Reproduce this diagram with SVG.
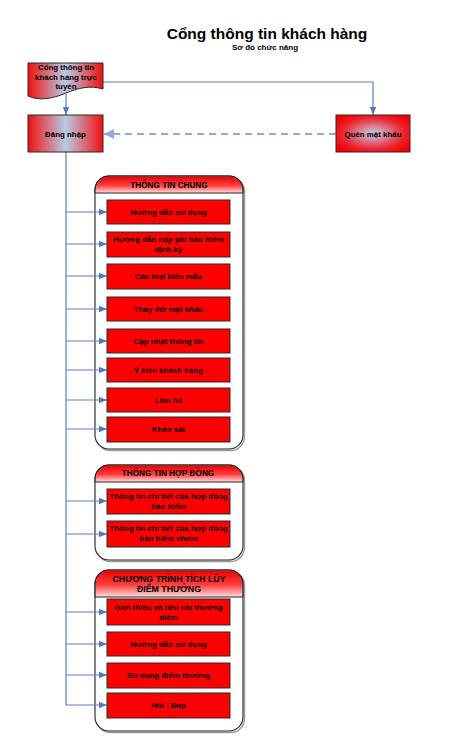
<svg xmlns="http://www.w3.org/2000/svg" width="456" height="748" viewBox="0 0 456 748">
  <style>
    text { font-family: "Liberation Sans", Arial, sans-serif; font-weight: bold; fill: #000; text-anchor: middle; }
    .title { font-size: 15.5px; }
    .sub { font-size: 8px; }
    .lbl { font-size: 7.9px; }
    .hdr { font-size: 8.2px; }
    .box { fill: #FF0000; stroke: #2a2a2a; stroke-width: 1; }
    .panel { fill: #fff; stroke: #222; stroke-width: 1.1; }
    .panel-shadow { fill: none; stroke: #999; stroke-width: 1.4; }
    .hdr-fill { fill: url(#hdrGrad); }
    .sep { stroke: #222; stroke-width: 1; }
    .conn { fill: none; stroke: #5A80C2; stroke-width: 1.2; }
    .dash { fill: none; stroke: #8EAADB; stroke-width: 2; stroke-dasharray: 7 5; }
  </style>
  <defs>
    <linearGradient id="hGrad" x1="0" y1="0" x2="1" y2="0">
      <stop offset="0" stop-color="#F01010"/>
      <stop offset="0.5" stop-color="#B9CBE6"/>
      <stop offset="1" stop-color="#F01010"/>
    </linearGradient>
    <radialGradient id="rGrad" cx="0.5" cy="0.5" r="0.6">
      <stop offset="0" stop-color="#C4CFE8"/>
      <stop offset="0.7" stop-color="#EE2430"/>
      <stop offset="1" stop-color="#F40000"/>
    </radialGradient>
    <linearGradient id="hdrGrad" x1="0" y1="0" x2="0" y2="1">
      <stop offset="0" stop-color="#F20000"/>
      <stop offset="0.55" stop-color="#FF4040"/>
      <stop offset="1" stop-color="#FFE0E0"/>
    </linearGradient>
    <marker id="arrowBlue" viewBox="0 0 10 8" refX="10" refY="4" markerWidth="7" markerHeight="5.6" orient="auto">
      <path d="M0,0 L10,4 L0,8 Z" fill="#4F7BC0"/>
    </marker>
    <marker id="arrowDash" viewBox="0 0 10 10" refX="10" refY="5" markerWidth="5" markerHeight="5" orient="auto">
      <path d="M0,0 L10,5 L0,10 Z" fill="#8EAADB"/>
    </marker>
  </defs>

  <!-- title -->
  <g id="title">
    <text class="title" x="267" y="39">Cổng thông tin khách hàng</text>
    <text class="sub" x="265" y="50">Sơ đồ chức năng</text>
  </g>

  <!-- panel: general information -->
  <g id="panel-general">
    <rect class="panel-shadow" x="96.5" y="177.5" width="148" height="273" rx="14"/>
    <rect class="panel" x="95" y="176" width="148" height="273" rx="14"/>
    <path class="hdr-fill" d="M95.5,193 V190 A13.5,13.5 0 0 1 109,176.5 H229 A13.5,13.5 0 0 1 242.5,190 V193 Z"/>
    <path d="M95,193 V190 A14,14 0 0 1 109,176 H229 A14,14 0 0 1 243,190 V193" fill="none" stroke="#222" stroke-width="1.1"/>
    <line class="sep" x1="95" y1="193" x2="243" y2="193"/>
    <text class="hdr" x="169" y="187.5">THÔNG TIN CHUNG</text>
  </g>

  <!-- panel: contract information -->
  <g id="panel-contract">
    <rect class="panel-shadow" x="96.5" y="466.5" width="148" height="95" rx="14"/>
    <rect class="panel" x="95" y="465" width="148" height="95" rx="14"/>
    <path class="hdr-fill" d="M95.5,482 V479 A13.5,13.5 0 0 1 109,465.5 H229 A13.5,13.5 0 0 1 242.5,479 V482 Z"/>
    <path d="M95,482 V479 A14,14 0 0 1 109,465 H229 A14,14 0 0 1 243,479 V482" fill="none" stroke="#222" stroke-width="1.1"/>
    <line class="sep" x1="95" y1="482" x2="243" y2="482"/>
    <text class="hdr" x="168" y="476">THÔNG TIN HỢP ĐỒNG</text>
  </g>

  <!-- panel: loyalty programme -->
  <g id="panel-loyalty">
    <rect class="panel-shadow" x="96.5" y="571.5" width="148" height="161" rx="14"/>
    <rect class="panel" x="95" y="570" width="148" height="161" rx="14"/>
    <path class="hdr-fill" d="M95.5,597 V584 A13.5,13.5 0 0 1 109,570.5 H229 A13.5,13.5 0 0 1 242.5,584 V597 Z"/>
    <path d="M95,597 V584 A14,14 0 0 1 109,570 H229 A14,14 0 0 1 243,584 V597" fill="none" stroke="#222" stroke-width="1.1"/>
    <line class="sep" x1="95" y1="597" x2="243" y2="597"/>
    <text class="hdr" x="169" y="582" style="font-size:8.8px">CHƯƠNG TRÌNH TÍCH LŨY</text>
    <text class="hdr" x="169" y="592" style="font-size:8.8px">ĐIỂM THƯỞNG</text>
  </g>

  <!-- connectors (drawn over the panels so the arrowheads show inside them) -->
  <g id="connectors">
    <path class="conn" d="M103,82 H373 V115" marker-end="url(#arrowBlue)"/>
    <path class="conn" d="M66,94 V115" marker-end="url(#arrowBlue)"/>
    <path class="dash" d="M336,134 H104" marker-end="url(#arrowDash)"/>
    <path class="conn" d="M66,152 V705 H107" marker-end="url(#arrowBlue)"/>
    <path class="conn" d="M66,212 H107" marker-end="url(#arrowBlue)"/>
    <path class="conn" d="M66,244 H107" marker-end="url(#arrowBlue)"/>
    <path class="conn" d="M66,276 H107" marker-end="url(#arrowBlue)"/>
    <path class="conn" d="M66,309 H107" marker-end="url(#arrowBlue)"/>
    <path class="conn" d="M66,341 H107" marker-end="url(#arrowBlue)"/>
    <path class="conn" d="M66,370 H107" marker-end="url(#arrowBlue)"/>
    <path class="conn" d="M66,400 H107" marker-end="url(#arrowBlue)"/>
    <path class="conn" d="M66,429 H107" marker-end="url(#arrowBlue)"/>
    <path class="conn" d="M66,501 H107" marker-end="url(#arrowBlue)"/>
    <path class="conn" d="M66,534 H107" marker-end="url(#arrowBlue)"/>
    <path class="conn" d="M66,612 H107" marker-end="url(#arrowBlue)"/>
    <path class="conn" d="M66,644 H107" marker-end="url(#arrowBlue)"/>
    <path class="conn" d="M66,675 H107" marker-end="url(#arrowBlue)"/>
  </g>

  <!-- portal document -->
  <g id="portal">
    <path d="M28,63 H103 V89 C90,85 78,88 66,93 C52,99 39,101 28,96 Z" fill="url(#hGrad)" stroke="#2a2a2a" stroke-width="1"/>
    <text class="lbl" x="66" y="70">Cổng thông tin</text>
    <text class="lbl" x="66" y="80">khách hàng trực</text>
    <text class="lbl" x="66" y="89">tuyến</text>
  </g>

  <!-- login -->
  <g id="login">
    <rect x="28" y="115" width="75" height="37" fill="url(#hGrad)" stroke="#2a2a2a" stroke-width="1"/>
    <text class="lbl" x="65.5" y="136.5">Đăng nhập</text>
  </g>

  <!-- forgot password -->
  <g id="forgot">
    <rect x="336" y="115" width="74" height="37" fill="url(#rGrad)" stroke="#2a2a2a" stroke-width="1"/>
    <text class="lbl" x="373" y="136.5">Quên mật khẩu</text>
  </g>

  <g id="n-guide">
    <rect class="box" x="107" y="200" width="123" height="24"/>
    <text class="lbl" x="168.5" y="215">Hướng dẫn sử dụng</text>
  </g>
  <g id="n-premium">
    <rect class="box" x="107" y="232" width="123" height="25"/>
    <text class="lbl" x="168.5" y="242">Hướng dẫn nộp phí bảo hiểm</text>
    <text class="lbl" x="168.5" y="251.5">định kỳ</text>
  </g>
  <g id="n-forms">
    <rect class="box" x="107" y="264" width="123" height="25"/>
    <text class="lbl" x="168.5" y="279">Các loại biểu mẫu</text>
  </g>
  <g id="n-password">
    <rect class="box" x="107" y="297" width="123" height="24"/>
    <text class="lbl" x="168.5" y="312">Thay đổi mật khẩu</text>
  </g>
  <g id="n-update">
    <rect class="box" x="107" y="329" width="123" height="24"/>
    <text class="lbl" x="168.5" y="343.5">Cập nhật thông tin</text>
  </g>
  <g id="n-feedback">
    <rect class="box" x="107" y="358" width="123" height="24"/>
    <text class="lbl" x="168.5" y="373">Ý kiến khách hàng</text>
  </g>
  <g id="n-contact">
    <rect class="box" x="107" y="388" width="123" height="24"/>
    <text class="lbl" x="168.5" y="402.5">Liên hệ</text>
  </g>
  <g id="n-survey">
    <rect class="box" x="107" y="417" width="123" height="25"/>
    <text class="lbl" x="168.5" y="432">Khảo sát</text>
  </g>

  <g id="n-contract">
    <rect class="box" x="107" y="489" width="123" height="25"/>
    <text class="lbl" x="168.5" y="499">Thông tin chi tiết của hợp đồng</text>
    <text class="lbl" x="168.5" y="508.5">bảo hiểm</text>
  </g>
  <g id="n-group-contract">
    <rect class="box" x="107" y="521" width="123" height="26"/>
    <text class="lbl" x="168.5" y="531">Thông tin chi tiết của hợp đồng</text>
    <text class="lbl" x="168.5" y="541">bảo hiểm nhóm</text>
  </g>

  <g id="n-loyalty-intro">
    <rect class="box" x="107" y="599" width="123" height="26"/>
    <text class="lbl" x="168.5" y="609.5">Giới thiệu và tiêu chí thưởng</text>
    <text class="lbl" x="168.5" y="619.5">điểm</text>
  </g>
  <g id="n-loyalty-guide">
    <rect class="box" x="107" y="632" width="123" height="24"/>
    <text class="lbl" x="168.5" y="646.5">Hướng dẫn sử dụng</text>
  </g>
  <g id="n-loyalty-use">
    <rect class="box" x="107" y="663" width="123" height="25"/>
    <text class="lbl" x="168.5" y="678">Sử dụng điểm thưởng</text>
  </g>
  <g id="n-faq">
    <rect class="box" x="107" y="693" width="123" height="25"/>
    <text class="lbl" x="168.5" y="708">Hỏi - Đáp</text>
  </g>
</svg>
